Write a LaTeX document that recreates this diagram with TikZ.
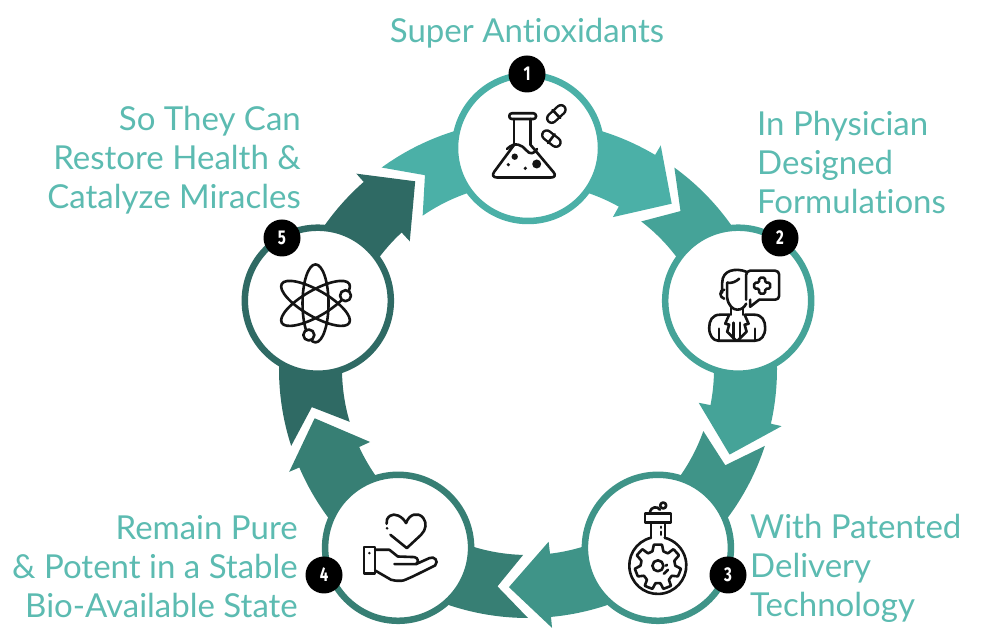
\documentclass[tikz,border=0pt]{standalone}
\usepackage{fontspec}
\setmainfont[Ligatures=NoCommon]{Lato}
\newfontfamily\badgefont[FakeStretch=0.75]{Fira Sans}
\usetikzlibrary{positioning}

\definecolor{tealA}{HTML}{4BB0A7}
\definecolor{tealB}{HTML}{45A398}
\definecolor{tealC}{HTML}{3F9488}
\definecolor{tealD}{HTML}{377F74}
\definecolor{tealE}{HTML}{2F6A64}
\definecolor{labelteal}{HTML}{5CBBB1}
\definecolor{inkblack}{HTML}{141414}

\begin{document}
\begin{tikzpicture}[
  x=1pt,y=1pt,
  ring/.style={circle,draw,fill=white,line width=6.5pt,minimum size=146pt,inner sep=0pt},
  badge/.style={circle,fill=black,text=white,minimum size=37pt,inner sep=0pt,font=\badgefont\bfseries\fontsize{20}{20}\selectfont},
  caption/.style={text=labelteal,font=\fontsize{33}{39}\selectfont,inner sep=0pt},
  icon/.style={y=-1pt,draw=inkblack,line width=2.6pt,line join=round,line cap=round},
  pillout/.style={draw=inkblack,line width=11.5pt,line cap=round},
  pillin/.style={draw=white,line width=6.6pt,line cap=round}
]
  \useasboundingbox (0,0) rectangle (1000,636);
  \coordinate (hub) at (528,267);

  % arrows of the cycle, ring nodes on top
  \begin{scope}[shift={(hub)}]
    \foreach \i/\ang/\col in {1/90/tealA,2/18/tealB,3/-54/tealC,4/-126/tealD,5/-198/tealE}{
      \fill[\col] (\ang+36:249) arc[start angle=\ang+36,end angle=\ang-30.7,radius=249]
        -- (\ang-30.7:260) -- (\ang-41:219) -- (\ang-29.2:174) -- (\ang-29.2:186)
        arc[start angle=\ang-29.2,end angle=\ang+34.5,radius=186]
        -- (\ang+28:219.5) -- cycle;
      \node[ring,draw=\col] (c\i) at (\ang:221) {};
    }
  \end{scope}

  % numbers
  \node[badge] (b1) at (527,562) {1};
  \node[badge] (b2) at (780,398) {2};
  \node[badge] (b3) at (728,61) {3};
  \node[badge] (b4) at (324,61) {4};
  \node[badge] (b5) at (282,398) {5};

  % captions
  \node[caption] (t1) at (527,603) {Super Antioxidants};
  \node[caption,anchor=west,align=left] (t2) at (757,474) {In Physician\\Designed\\Formulations};
  \node[caption,anchor=west,align=left] (t3) at (750,68) {With Patented\\Delivery\\Technology};
  \node[caption,anchor=east,align=right] (t4) at (298,69) {Remain Pure\\\& Potent in a Stable\\Bio-Available State};
  \node[caption,anchor=east,align=right] (t5) at (301,476) {So They Can\\Restore Health \&\\Catalyze Miracles};

  % flask and pills
  \begin{scope}[shift={(c1.center)},icon]
    \draw[rounded corners=2.5pt] (-18.7,-34.7) rectangle (8,-29);
    \draw (-14,-29) -- (-14,-3);
    \draw (2.7,-29) -- (2.7,-3);
    \draw[rounded corners=7pt] (-14,-3) -- (-38,29.5) -- (30,29.5) -- (2.7,-3);
    \draw (-21,1) .. controls (-13,-7) and (-6,-3) .. (-2,2) .. controls (2,7) and (6,6) .. (9,1);
    \fill[inkblack] (-13.3,8.7) circle[radius=3.2] (-19.7,16.7) circle[radius=1.8]
      (-2.7,20.3) circle[radius=1.8] (8.7,16) circle[radius=4.5];
    \draw[pillout] (23.7,-29.7) -- (33,-38.3);
    \draw[pillin] (23.7,-29.7) -- (33,-38.3);
    \draw (24.6,-38) -- (32.1,-30);
    \draw[pillout] (18.7,-13) -- (28,-5.7);
    \draw[pillin] (18.7,-13) -- (28,-5.7);
    \draw (20,-5) -- (26.7,-13.7);
  \end{scope}

  % doctor with speech bubble
  \begin{scope}[shift={(c2.center)},icon]
    \draw[rounded corners=4pt] (8,-1) -- (8,-30) -- (41,-30) -- (41,-1) -- (21,-1);
    \draw (21,-1) -- (12,6) -- (12,-1);
    \draw[rounded corners=1.5pt] (21,-23) -- (27,-23) -- (27,-18) -- (32,-18) -- (32,-12) -- (27,-12)
      -- (27,-7) -- (21,-7) -- (21,-12) -- (16,-12) -- (16,-18) -- (21,-18) -- cycle;
    \draw (8,-29) .. controls (-2,-33) and (-16,-31) .. (-16,-18) -- (-16,-8);
    \draw (-11,-18) .. controls (-7,-17) and (-2,-19) .. (1,-22);
    \draw (-11,-18) -- (-11,-3) .. controls (-10,5) and (-5,9) .. (-1,9) .. controls (3,9) and (6,7) .. (8,3);
    \draw (-14,-11) .. controls (-19,-11) and (-19,-3) .. (-14,-2);
    \draw (-7,7) -- (-7,14) (5,7) -- (5,14);
    \draw (-9,14) -- (-18,14) .. controls (-26,14) and (-29,20) .. (-29,27)
      .. controls (-29,35) and (-25,40) .. (-20,40) -- (17,40)
      .. controls (23,40) and (27,35) .. (27,27) .. controls (27,20) and (24,14) .. (16,14) -- (7,14);
    \draw (-19,28) -- (-19,40) (17,28) -- (17,40);
    \draw (-9,14) -- (-13,23) -- (-9,24) -- (-11,31) -- (-2,40) (6.4,14) -- (10.4,23) -- (6.4,24) -- (8.4,31) -- (-0.6,40);
    \draw (-4.7,22) -- (-4.7,38) (2,22) -- (2,38);
  \end{scope}

  % round flask with gear
  \begin{scope}[shift={(c3.center)},icon]
    \draw (-13,-34) rectangle (13,-25);
    \draw (-7,-25) -- (-7,-10) (7,-25) -- (7,-10);
    \draw (-7,-10) arc[start angle=-104,end angle=-436,radius=28.5] ;
    \draw (5.3,-42.3) circle[radius=3];
    \draw (-8,-36) .. controls (-7,-41) and (0,-42) .. (2,-38);
    \draw (3,-21) -- (3,-20) (3,-16) -- (3,-13);
    \draw (0,18) circle[radius=5.5];
    \draw plot[smooth cycle,tension=0.1] coordinates {
      (-4,-3) (4,-3) (5.5,3.5) (10,5.5) (15.5,1.5) (21,7.5) (16.5,13) (17.5,18) (23,21)
      (20,28.5) (14,28) (11,32) (13,38) (5.5,41) (2.5,35.5) (-2.5,35.5) (-5.5,41) (-13,38)
      (-11,32) (-14,28) (-20,28.5) (-23,21) (-17.5,18) (-16.5,13) (-21,7.5) (-15.5,1.5)
      (-10,5.5) (-5.5,3.5)};
    \draw (6,26) -- (10,22) (8,18) -- (9,17);
  \end{scope}

  % open hand and heart
  \begin{scope}[shift={(c4.center)},icon]
    \draw (8,-24.7) .. controls (4,-32) and (-4,-35) .. (-8,-32) .. controls (-11,-30) and (-12,-27) .. (-11.5,-24);
    \draw (8,-24.7) .. controls (11,-34) and (20,-36) .. (25,-30) .. controls (29,-25) and (28,-18) .. (23,-13)
      -- (8.7,0.3) -- (-7.7,-13);
    \fill[inkblack] (-11,-19.5) circle[radius=1.4];
    \draw (-34,-0.7) rectangle (-23,26);
    \fill[inkblack] (-28.7,5.3) circle[radius=1.4];
    \draw (-23,2) -- (-8.7,2) -- (-0.3,8.7) -- (16.3,9.3) .. controls (20,10) and (21,14) .. (18,16.3) -- (-3.7,16.3);
    \draw (18,16.3) -- (31.3,10.3) .. controls (36,8) and (41,13) .. (37,17.7) -- (14.7,28.7)
      .. controls (9,31) and (6,33) .. (3,33) .. controls (-1,33) and (-4,33) .. (-7,32) -- (-23,22.7);
  \end{scope}

  % atom
  \begin{scope}[shift={(c5.center)},icon]
    \draw (-2.3,2.7) ellipse[x radius=13,y radius=39];
    \draw[rotate around={60:(-2.3,2.7)}] (-2.3,2.7) ellipse[x radius=13,y radius=39];
    \draw[rotate around={-60:(-2.3,2.7)}] (-2.3,2.7) ellipse[x radius=13,y radius=39];
    \filldraw[fill=white] (27.7,-5) circle[radius=5.5];
    \filldraw[fill=white] (-9,34.3) circle[radius=5.5];
  \end{scope}
\end{tikzpicture}
\end{document}
